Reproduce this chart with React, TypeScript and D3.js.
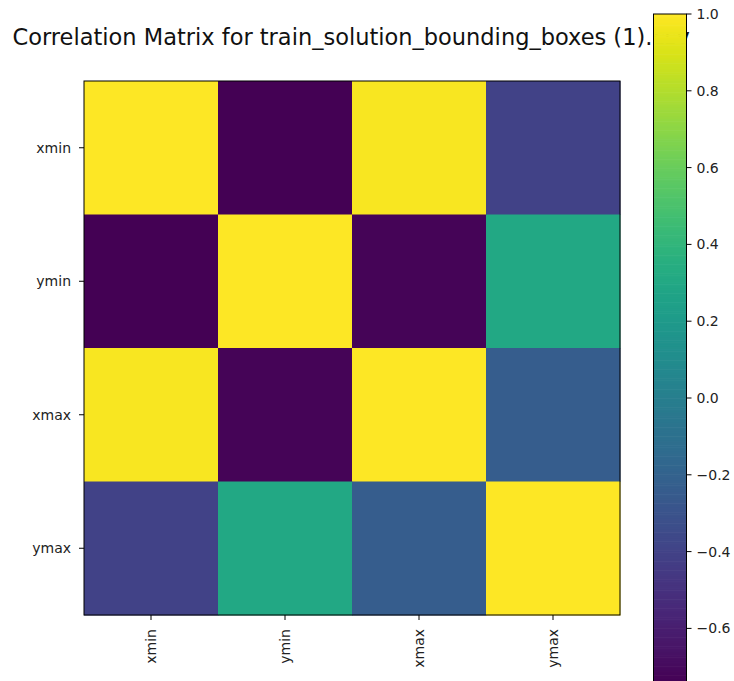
import React, { useEffect, useRef } from 'react';
import * as d3 from 'd3';

const labels = ['xmin', 'ymin', 'xmax', 'ymax'];
const rowXmin = [1.0, -0.745, 0.98, -0.4];
const rowYmin = [-0.745, 1.0, -0.73, 0.3];
const rowXmax = [0.98, -0.73, 1.0, -0.24];
const rowYmax = [-0.4, 0.3, -0.24, 1.0];
const matrix = [rowXmin, rowYmin, rowXmax, rowYmax];
const cbarTicks = [1.0, 0.8, 0.6, 0.4, 0.2, 0.0, -0.2, -0.4, -0.6];
const title = 'Correlation Matrix for train_solution_bounding_boxes (1).csv';

const App = () => {
  const ref = useRef<SVGSVGElement | null>(null);

  useEffect(() => {
    document.body.style.margin = '0';
    const width = 734;
    const height = 681;
    const svg = d3.select(ref.current);
    svg.selectAll('*').remove();
    svg.attr('width', width).attr('height', height);

    const font = 'DejaVu Sans, sans-serif';
    const vmin = d3.min(matrix.flat()) as number;
    const vmax = 1.0;
    const color = d3.scaleSequential(d3.interpolateViridis).domain([vmin, vmax]);

    // heatmap
    const x = d3.scaleBand().domain(labels).range([84, 620]);
    const y = d3.scaleBand().domain(labels).range([81, 615]);

    const cells = matrix.flatMap((row, i) => row.map((v, j) => ({ r: labels[i], c: labels[j], v })));
    svg.append('g')
      .selectAll('rect')
      .data(cells)
      .enter()
      .append('rect')
      .attr('x', d => x(d.c) as number)
      .attr('y', d => y(d.r) as number)
      .attr('width', x.bandwidth() + 0.5)
      .attr('height', y.bandwidth() + 0.5)
      .attr('fill', d => color(d.v));

    svg.append('rect')
      .attr('x', 84).attr('y', 81)
      .attr('width', 536).attr('height', 534)
      .attr('fill', 'none').attr('stroke', '#000').attr('stroke-width', 1);

    // y ticks
    const yt = svg.append('g').attr('font-family', font).attr('font-size', 14).attr('fill', '#222');
    labels.forEach(l => {
      const cy = (y(l) as number) + y.bandwidth() / 2;
      yt.append('line').attr('x1', 79).attr('x2', 84).attr('y1', cy).attr('y2', cy).attr('stroke', '#000');
      yt.append('text').attr('x', 71).attr('y', cy).attr('dy', '0.35em').attr('text-anchor', 'end').text(l);
    });

    // x ticks (rotated)
    const xt = svg.append('g').attr('font-family', font).attr('font-size', 14).attr('fill', '#222');
    labels.forEach(l => {
      const cx = (x(l) as number) + x.bandwidth() / 2;
      xt.append('line').attr('x1', cx).attr('x2', cx).attr('y1', 615).attr('y2', 620).attr('stroke', '#000');
      xt.append('text')
        .attr('transform', `translate(${cx},629) rotate(-90)`)
        .attr('dy', '0.35em')
        .attr('text-anchor', 'end')
        .text(l);
    });

    // title (partly hidden behind the colorbar, as in the original)
    svg.append('text')
      .attr('x', 12.5).attr('y', 45)
      .attr('font-family', font)
      .attr('font-size', 22.5)
      .attr('fill', '#111')
      .text(title);

    // colorbar
    const cbY = d3.scaleLinear().domain([vmax, vmin]).range([14, 14 + (vmax - vmin) * 384]);
    const cbX = 653.5;
    const cbW = 33;
    const steps = d3.range(0, 300).map(i => vmax - (i / 300) * (vmax - vmin));
    const stepH = (cbY(vmin) - cbY(vmax)) / 300;
    svg.append('g')
      .selectAll('rect')
      .data(steps)
      .enter()
      .append('rect')
      .attr('x', cbX)
      .attr('y', d => cbY(d))
      .attr('width', cbW)
      .attr('height', stepH + 0.6)
      .attr('fill', d => color(d - (vmax - vmin) / 600));
    svg.append('rect')
      .attr('x', cbX).attr('y', cbY(vmax))
      .attr('width', cbW).attr('height', cbY(vmin) - cbY(vmax))
      .attr('fill', 'none').attr('stroke', '#000').attr('stroke-width', 1);

    const ct = svg.append('g').attr('font-family', font).attr('font-size', 14).attr('fill', '#222');
    const fmt = d3.format('.1f');
    cbarTicks.forEach(t => {
      const ty = cbY(t);
      ct.append('line').attr('x1', cbX + cbW).attr('x2', cbX + cbW + 5).attr('y1', ty).attr('y2', ty).attr('stroke', '#000');
      ct.append('text').attr('x', cbX + cbW + 10).attr('y', ty).attr('dy', '0.35em').text(fmt(t).replace('-', '\u2212'));
    });
  }, []);

  return <svg ref={ref} style={{ display: 'block', background: '#fff' }} />;
};

export default App;
